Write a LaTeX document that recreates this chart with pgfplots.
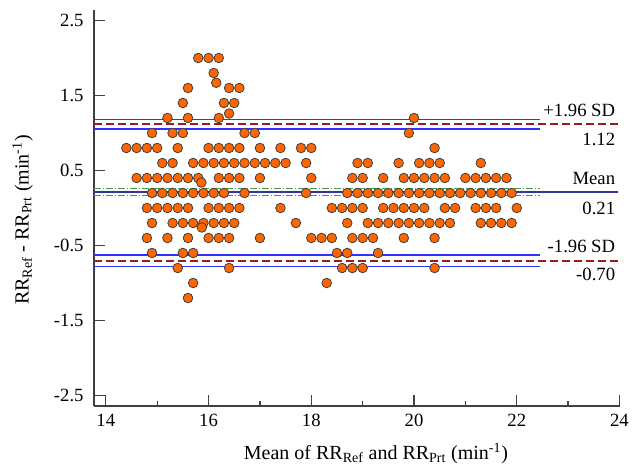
\documentclass[border=0pt]{standalone}
\usepackage{fontspec}
\setmainfont{Liberation Serif}
\usepackage{pgfplots}
\pgfplotsset{compat=1.18}
\usepackage{pgfplotstable}

\definecolor{ptorange}{HTML}{FF6600}
\definecolor{ptedge}{HTML}{3F3F3F}
\definecolor{loared}{HTML}{9B1B1B}
\definecolor{ciblue}{HTML}{3030FF}
\definecolor{meanblue}{HTML}{3434A0}
\definecolor{cigreen}{HTML}{4E9A4E}
\definecolor{axgray}{HTML}{404040}

% Bland-Altman points: mean, difference
\pgfplotstableread{
x y
15.8 2.0
16.0 2.0
16.2 2.0
16.1 1.8
16.15 1.67
15.6 1.6
16.4 1.6
16.6 1.6
15.5 1.4
16.3 1.4
16.5 1.4
16.4 1.26
15.2 1.2
15.6 1.2
16.2 1.2
20.0 1.2
14.9 1.0
15.3 1.0
15.5 1.0
16.7 1.0
16.9 1.0
19.9 1.0
14.4 0.8
14.6 0.8
14.8 0.8
15.0 0.8
15.4 0.8
16.0 0.8
16.2 0.8
16.4 0.8
16.6 0.8
17.0 0.8
17.4 0.8
17.8 0.8
18.0 0.8
20.4 0.8
15.1 0.6
15.3 0.6
15.7 0.6
15.9 0.6
16.1 0.6
16.3 0.6
16.5 0.6
16.7 0.6
16.9 0.6
17.1 0.6
17.3 0.6
17.5 0.6
17.9 0.6
18.9 0.6
19.1 0.6
19.7 0.6
20.1 0.6
20.3 0.6
20.5 0.6
21.3 0.6
14.6 0.4
14.8 0.4
15.0 0.4
15.2 0.4
15.4 0.4
15.6 0.4
15.8 0.4
16.2 0.4
16.4 0.4
16.6 0.4
17.0 0.4
18.0 0.4
18.8 0.4
19.0 0.4
19.4 0.4
19.8 0.4
20.0 0.4
20.2 0.4
20.4 0.4
20.6 0.4
21.0 0.4
21.2 0.4
21.4 0.4
21.6 0.4
21.8 0.4
15.86 0.34
14.9 0.2
15.1 0.2
15.3 0.2
15.5 0.2
15.7 0.2
15.9 0.2
16.1 0.2
16.3 0.2
16.7 0.2
17.9 0.2
18.7 0.2
18.9 0.2
19.1 0.2
19.3 0.2
19.5 0.2
19.7 0.2
19.9 0.2
20.1 0.2
20.3 0.2
20.5 0.2
20.7 0.2
20.9 0.2
21.1 0.2
21.3 0.2
21.5 0.2
21.7 0.2
21.9 0.2
14.8 0.0
15.0 0.0
15.2 0.0
15.4 0.0
15.6 0.0
16.0 0.0
16.2 0.0
16.4 0.0
16.6 0.0
17.4 0.0
18.4 0.0
18.6 0.0
18.8 0.0
19.0 0.0
19.4 0.0
19.6 0.0
19.8 0.0
20.0 0.0
20.2 0.0
20.6 0.0
20.8 0.0
21.2 0.0
21.4 0.0
21.6 0.0
22.0 0.0
14.9 -0.2
15.3 -0.2
15.5 -0.2
15.7 -0.2
15.9 -0.2
16.1 -0.2
16.3 -0.2
16.5 -0.2
17.7 -0.2
18.7 -0.2
19.1 -0.2
19.3 -0.2
19.5 -0.2
19.7 -0.2
19.9 -0.2
20.1 -0.2
20.3 -0.2
20.5 -0.2
20.7 -0.2
21.3 -0.2
21.5 -0.2
21.7 -0.2
21.9 -0.2
15.87 -0.26
14.8 -0.4
15.2 -0.4
15.6 -0.4
16.0 -0.4
16.2 -0.4
16.4 -0.4
17.0 -0.4
18.0 -0.4
18.2 -0.4
18.4 -0.4
18.8 -0.4
19.0 -0.4
19.2 -0.4
19.8 -0.4
20.4 -0.4
14.9 -0.6
15.5 -0.6
15.7 -0.6
18.5 -0.6
18.7 -0.6
19.3 -0.6
15.4 -0.8
16.4 -0.8
18.6 -0.8
18.8 -0.8
19.0 -0.8
20.4 -0.8
15.7 -1.0
18.3 -1.0
15.6 -1.2
}\badata

\begin{document}
\fontsize{14}{16}\selectfont
\begin{tikzpicture}
\path[use as bounding box] (-70.5pt,-44.25pt) rectangle (408pt,304.5pt);
\begin{axis}[
    at={(0,0)}, anchor=south west,
    scale only axis,
    width=394.5pt, height=297pt,
    xmin=13.77, xmax=24.01,
    ymin=-2.64, ymax=2.64,
    axis lines*=left,
    axis line style={axgray, line width=1.4pt, -},
    tick style={axgray, line width=1pt},
    tick align=inside,
    major tick length=8pt,
    minor tick length=4pt,
    xtick={14,16,18,20,22,24},
    xticklabels={14,16,18,20,22,24},
    minor xtick={15,17,19,21,23},
    ytick={-2.5,-1.5,-0.5,0.5,1.5,2.5},
    yticklabels={-2.5,-1.5,-0.5,0.5,1.5,2.5},
    ticklabel style={font=\fontsize{14}{16}\selectfont},
    yticklabel style={xshift=-3pt},
    xticklabel style={yshift=-1pt},
    xlabel={Mean of RR\textsubscript{Ref} and RR\textsubscript{Prt} (min\textsuperscript{-1})},
    ylabel={RR\textsubscript{Ref} - RR\textsubscript{Prt} (min\textsuperscript{-1})},
    label style={font=\fontsize{15}{17}\selectfont},
    xlabel style={at={(axis description cs:0.536,0)}, anchor=north, yshift=-23pt},
    ylabel style={at={(axis description cs:-0.104,0.47)}, anchor=south},
    clip=false,
]
\addplot[only marks, mark=*, mark size=3.6pt,
    mark options={fill=ptorange, draw=ptedge, line width=0.6pt}]
    table[x=x, y=y] {\badata};

% confidence bands of the limits and the mean
\addplot[ciblue, line width=1.25pt] coordinates {(13.77,1.18) (22.45,1.18)};
\addplot[ciblue, line width=1.25pt] coordinates {(13.77,1.05) (22.45,1.05)};
\addplot[ciblue, line width=1.25pt] coordinates {(13.77,-0.63) (22.45,-0.63)};
\addplot[ciblue, line width=1.25pt] coordinates {(13.77,-0.78) (22.45,-0.78)};
\addplot[cigreen, line width=0.9pt, dash pattern=on 5pt off 1.5pt on 1pt off 1.5pt]
    coordinates {(13.77,0.265) (22.45,0.265)};
\addplot[cigreen, line width=0.9pt, dash pattern=on 5pt off 1.5pt on 1pt off 1.5pt]
    coordinates {(13.77,0.165) (22.45,0.165)};

% mean and limits of agreement
\addplot[meanblue, line width=1.8pt] coordinates {(13.77,0.215) (23.97,0.215)};
\addplot[loared, line width=1.6pt, dash pattern=on 6pt off 3pt]
    coordinates {(13.77,1.115) (24.0,1.115)};
\addplot[loared, line width=1.6pt, dash pattern=on 6pt off 3pt]
    coordinates {(13.77,-0.705) (24.0,-0.705)};

\node[anchor=east, inner sep=0pt] at (axis cs:23.92,1.30) {+1.96 SD};
\node[anchor=east, inner sep=0pt] at (axis cs:23.92,0.91) {1.12};
\node[anchor=east, inner sep=0pt] at (axis cs:23.92,0.39) {Mean};
\node[anchor=east, inner sep=0pt] at (axis cs:23.92,0.00) {0.21};
\node[anchor=east, inner sep=0pt] at (axis cs:23.92,-0.51) {-1.96 SD};
\node[anchor=east, inner sep=0pt] at (axis cs:23.92,-0.89) {-0.70};
\end{axis}
\end{tikzpicture}
\end{document}
